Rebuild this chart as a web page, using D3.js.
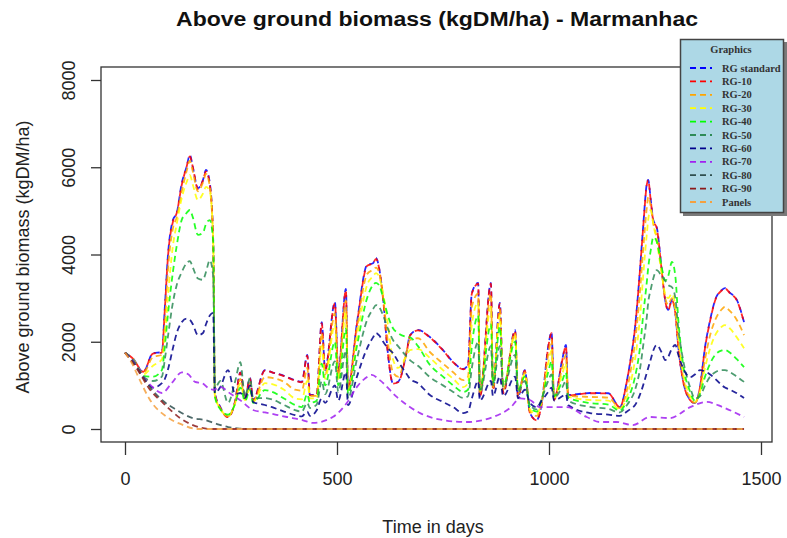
<!DOCTYPE html>
<html>
<head>
<meta charset="utf-8">
<script src="https://cdn.jsdelivr.net/npm/d3@7"></script>
<style>
  body { margin: 0; background: #fff; }
  svg { display: block; font-family: "Liberation Sans", Arial, sans-serif; }
</style>
</head>
<body>
<div id="chart"></div>
<script>
// shared day grid for the growing curves
const days = [0,20,43,66,87,94,101,113,122,134,145,153,160,172,184,191,200,208,
  212,225,243,260,272,283,295,302,330,347,375,401,417,430,436,452,
  464,472,495,503,521,526,547,571,585,592,599,609,620,632,644,665,672,691,
  719,750,774,798,809,818,833,837,863,868,884,892,920,927,943,955,971,983,998,1006,1012,1031,1040,1045,
  1097,1140,1167,1184,1191,1203,1215,1222,1231,1234,1240,1246,1254,1266,1274,1281,1290,1298,1305,1316,1333,1344,1356,1368,1380,1392,1408,1415,1427,1443,1460];

const rgStandard = [1750,1600,1300,1740,1760,2800,3940,4790,4950,5640,6000,6280,6000,5520,5710,5940,5640,4330,
  820,500,280,650,1300,710,1170,660,1350,1300,1220,1120,1080,1700,780,780,
  2450,1350,2910,1300,3210,940,2430,3760,3800,3920,3710,2960,1740,1050,1080,1810,2150,2270,
  2110,1810,1535,1375,1470,3120,3350,735,3350,900,2890,825,2270,735,1350,365,205,595,1880,2220,665,1580,1925,780,
  825,820,500,1120,1510,2340,3710,4630,5640,5710,5250,4790,4630,3640,2960,2730,2960,2660,1880,1120,665,595,960,1880,2500,2960,3190,3230,3120,2960,2450];
const rg10 = [1750,1600,1310,1730,1750,2750,3900,4750,4950,5600,6000,6250,6000,5500,5700,5900,5600,4300,
  800,480,270,640,1290,700,1160,650,1340,1300,1210,1110,1070,1680,770,770,
  2420,1340,2880,1290,3180,930,2400,3740,3800,3900,3700,2950,1730,1040,1070,1800,2140,2260,
  2100,1800,1530,1370,1460,3100,3330,730,3330,890,2870,820,2250,730,1340,360,200,590,1860,2200,660,1560,1900,770,
  820,815,500,1110,1500,2320,3690,4600,5620,5700,5230,4770,4610,3620,2950,2720,2950,2650,1870,1110,660,590,950,1860,2480,2950,3180,3220,3110,2950,2440];
const rg20 = [1750,1590,1280,1650,1700,2400,3600,4600,4850,5450,5900,6150,5900,5450,5650,5850,5550,4250,
  780,470,290,620,1150,680,1050,640,1190,1170,1080,900,880,1400,760,760,
  2200,1250,2650,1200,2950,900,2300,3550,3650,3700,3600,3000,2000,1300,1200,1800,2040,2080,
  1765,1500,1300,1120,1200,2800,3100,800,3100,950,2750,900,2200,800,1300,400,300,620,1700,2050,700,1400,1700,760,
  735,720,480,900,1250,2000,3200,4100,5100,5320,5100,4700,4400,3600,3000,2850,3000,2700,2000,1200,700,600,900,1600,2150,2500,2750,2800,2700,2500,2150];
const rg30 = [1750,1580,1250,1450,1600,2100,3000,4200,4700,5300,5650,5820,5600,5250,5400,5550,5450,4300,
  760,460,300,600,1050,660,950,620,1050,1030,900,700,680,1100,700,700,
  1900,1150,2400,1100,2700,850,2100,3300,3500,3575,3500,3100,2400,1600,1400,1700,1810,1830,
  1630,1350,1150,960,1050,2400,2900,850,2800,1000,2600,950,2150,850,1250,450,350,650,1500,1800,720,1250,1500,740,
  665,650,450,750,1000,1600,2600,3500,4500,4800,5020,4700,4300,3550,3100,3000,3100,2800,2100,1300,750,620,850,1400,1850,2150,2350,2380,2300,2100,1850];
const rg40 = [1750,1570,1220,1200,1350,1900,2600,3600,4200,4800,4950,5020,4850,4450,4500,4700,4790,4300,
  740,450,330,580,950,640,900,600,890,850,700,550,500,800,600,650,
  1500,1000,2000,1000,2300,800,1900,3000,3300,3350,3300,3000,2600,2310,2200,2110,2100,1900,
  1470,1200,1000,850,900,1900,2600,900,2400,1050,2350,1000,2000,900,1200,500,400,680,1300,1550,750,1100,1300,720,
  595,560,420,650,800,1200,1900,2600,3400,3700,4100,4400,4300,3700,3400,3500,3830,3500,2500,1500,850,650,800,1200,1500,1700,1800,1810,1750,1600,1420];
const rg50 = [1750,1560,1200,1100,1200,1600,2100,2900,3300,3600,3800,3850,3700,3450,3420,3600,3870,3500,
  940,1100,600,1100,1530,735,1170,710,710,680,550,435,400,600,480,560,
  1100,800,1550,850,1800,700,1600,2500,2750,2840,2800,2600,2300,2040,1900,1650,1580,1450,
  1190,1000,850,710,750,1400,2000,850,1900,1000,1900,950,1700,850,1100,550,450,700,1100,1250,720,950,1100,650,
  505,460,380,550,650,900,1400,1900,2600,2900,3200,3450,3640,3500,3400,3300,3250,3000,2300,1600,950,700,750,1000,1200,1300,1350,1350,1300,1200,1080];
const rg60 = [1750,1550,1180,950,1050,1150,1350,1850,2200,2450,2530,2500,2400,2150,2200,2400,2600,2660,
  825,965,1350,800,825,710,1000,620,550,500,400,320,290,400,300,430,
  700,600,1000,650,1300,550,1200,1850,2100,2200,2150,2000,1850,1740,1550,1250,1150,1050,
  780,620,500,365,400,700,1100,650,1100,750,1200,750,1200,700,900,600,500,650,850,950,650,750,800,550,
  365,330,300,400,450,550,800,1000,1300,1400,1600,1800,1925,1750,1580,1650,1850,1925,1700,1400,1190,1250,1350,1320,1250,1150,1000,950,900,820,710];

// RG-70 is smoother, own grid
const days70 = [0,20,43,66,87,110,134,150,165,182,196,210,224,250,271,302,330,382,420,443,490,523,547,565,582,601,641,696,
  750,806,868,908,932,955,979,1042,1089,1120,1160,1198,1238,1285,1333,1372,1410,1460];
const rg70 = [1750,1550,1200,950,825,1050,1300,1250,1080,1050,940,900,965,800,665,435,380,275,200,140,275,595,965,1150,1240,1120,735,365,
  205,160,275,480,700,665,500,500,275,160,160,90,275,250,500,620,500,275];

// the three that die off in the first year
const days80 = [0,30,59,87,122,160,189,215,243,270,300,1460];
const rg80 = [1750,1400,960,665,435,250,205,120,45,10,0,0];
const days90 = [0,30,59,90,130,160,200,1460];
const rg90 = [1750,1350,900,595,250,90,0,0];
const daysPanels = [0,16,35,59,99,137,170,1460];
const panels = [1750,1510,1120,665,275,90,0,0];

const seriesNames = ['RG standard','RG-10','RG-20','RG-30','RG-40','RG-50','RG-60','RG-70','RG-80','RG-90','Panels'];
const seriesColors = ['#0000FF','#FF0000','#FFA500','#FFFF00','#00FF00','#2E8B57','#00008B','#A020F0','#2F4F4F','#8B1A1A','#F4A040'];
const xTicks = [0, 500, 1000, 1500];
const yTicks = [0, 2000, 4000, 6000, 8000];

const seriesDays = [days, days, days, days, days, days, days, days70, days80, days90, daysPanels];
const seriesValues = [rgStandard, rg10, rg20, rg30, rg40, rg50, rg60, rg70, rg80, rg90, panels];

const series = seriesNames.map((name, i) => ({
  name,
  color: seriesColors[i],
  points: seriesDays[i].map((d, j) => ({ day: d, value: seriesValues[i][j] }))
}));

const width = 787, height = 538;
const box = { left: 101, right: 772, top: 67, bottom: 442 };

const svg = d3.select('#chart').append('svg')
  .attr('width', width)
  .attr('height', height);

const x = d3.scaleLinear().domain([0, 1500]).range([125, 761]);
const y = d3.scaleLinear().domain([0, 8000]).range([429, 80]);

// lines
const line = d3.line()
  .x(d => x(d.day))
  .y(d => y(d.value))
  .curve(d3.curveMonotoneX);

svg.append('g')
  .selectAll('path')
  .data(series)
  .join('path')
  .attr('d', d => line(d.points))
  .attr('fill', 'none')
  .attr('stroke', d => d.color)
  .attr('stroke-width', 1.8)
  .attr('stroke-dasharray', '6,4')
  .attr('stroke-dashoffset', (d, i) => i === 1 ? 5 : 0) // red sits in the gaps of the blue
  .attr('stroke-opacity', 0.85);

// plot frame
svg.append('rect')
  .attr('x', box.left)
  .attr('y', box.top)
  .attr('width', box.right - box.left)
  .attr('height', box.bottom - box.top)
  .attr('fill', 'none')
  .attr('stroke', '#333')
  .attr('stroke-width', 1.3);

// axes
const xAxis = svg.append('g')
  .attr('transform', `translate(0,${box.bottom})`)
  .call(d3.axisBottom(x).tickValues(xTicks).tickSize(13).tickFormat(d3.format('d')));
xAxis.select('.domain').remove();
xAxis.selectAll('line').attr('stroke', '#333').attr('stroke-width', 1.3);
xAxis.selectAll('text')
  .attr('y', 43).attr('dy', 0)
  .attr('font-size', 18).attr('fill', '#222')
  .attr('font-family', '"Liberation Sans", Arial, sans-serif');

const yAxis = svg.append('g')
  .attr('transform', `translate(${box.left},0)`)
  .call(d3.axisLeft(y).tickValues(yTicks).tickSize(10).tickFormat(d3.format('d')));
yAxis.select('.domain').remove();
yAxis.selectAll('line').attr('stroke', '#333').attr('stroke-width', 1.3);
yAxis.selectAll('text')
  .attr('x', 0).attr('dy', 0)
  .attr('transform', 'translate(-26,0) rotate(-90)')
  .attr('text-anchor', 'middle')
  .attr('font-size', 18).attr('fill', '#222')
  .attr('font-family', '"Liberation Sans", Arial, sans-serif');

// titles
svg.append('text')
  .attr('x', 437).attr('y', 26)
  .attr('text-anchor', 'middle')
  .attr('font-size', 20).attr('font-weight', 'bold').attr('fill', '#111')
  .attr('textLength', 522).attr('lengthAdjust', 'spacingAndGlyphs')
  .text('Above ground biomass (kgDM/ha) - Marmanhac');

svg.append('text')
  .attr('x', 433).attr('y', 533)
  .attr('text-anchor', 'middle')
  .attr('font-size', 18).attr('fill', '#222')
  .text('Time in days');

svg.append('text')
  .attr('transform', 'translate(29,257) rotate(-90)')
  .attr('text-anchor', 'middle')
  .attr('font-size', 18).attr('fill', '#222')
  .text('Above ground biomass (kgDM/ha)');

// legend
const legend = svg.append('g').attr('font-family', '"Liberation Serif", "Times New Roman", serif');
legend.append('rect')
  .attr('x', 683).attr('y', 42).attr('width', 104).attr('height', 174)
  .attr('fill', '#7a7a7a');
legend.append('rect')
  .attr('x', 680.5).attr('y', 39.5).attr('width', 103).attr('height', 173)
  .attr('fill', '#ADD8E6').attr('stroke', '#444').attr('stroke-width', 1.5);
legend.append('text')
  .attr('x', 731).attr('y', 53)
  .attr('text-anchor', 'middle')
  .attr('font-size', 10.5).attr('font-weight', 'bold').attr('fill', '#333')
  .text('Graphics');

const rows = legend.selectAll('g.row')
  .data(series)
  .join('g')
  .attr('class', 'row')
  .attr('transform', (d, i) => `translate(0,${68 + i * 13.4})`);
rows.append('line')
  .attr('x1', 690).attr('x2', 712)
  .attr('stroke', d => d.color)
  .attr('stroke-width', 1.8)
  .attr('stroke-dasharray', '6,4');
rows.append('text')
  .attr('x', 722).attr('y', 3.5)
  .attr('font-size', 10.5).attr('font-weight', 'bold').attr('fill', '#333')
  .text(d => d.name);
</script>
</body>
</html>
